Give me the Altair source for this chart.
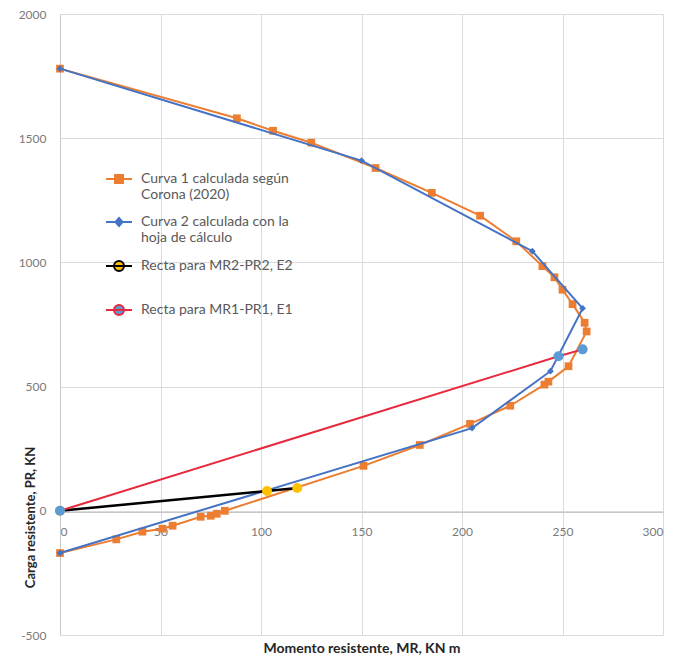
import altair as alt
import pandas as pd

# ---------------- data ----------------
series_names = [
    "Curva 1 calculada según|Corona (2020)",
    "Curva 2 calculada con la|hoja de cálculo",
    "Recta para MR2-PR2, E2| ",
    "Recta para MR1-PR1, E1",
]

c1_mr = [0, 88, 106, 125, 157, 185, 209, 227, 240, 246, 250, 255, 261, 262,
         253, 243, 241, 224, 204, 179, 151, 82, 78, 75, 70, 56, 51, 41, 28, 0]
c1_pr = [1780, 1580, 1530, 1482, 1380, 1280, 1188, 1085, 985, 940, 890, 832, 757, 722,
         582, 520, 508, 423, 350, 265, 181, 0, -12, -20, -24, -60, -72, -84, -115, -170]

c2_mr = [0, 150, 235, 260, 244, 205, 0]
c2_pr = [1780, 1410, 1045, 815, 562, 333, -170]

e2_mr = [0, 103, 118]
e2_pr = [0, 80, 92]

e1_mr = [0, 248, 260]
e1_pr = [0, 622, 650]

x_ticks = [0, 50, 100, 150, 200, 250, 300]
y_ticks = [-500, 0, 500, 1000, 1500, 2000]

line_colors = ["#ED7D31", "#4472C4", "#000000", "#E8283C"]
marker_colors = ["#ED7D31", "#4472C4", "#FFC000", "#5B9BD5"]

# legend symbols: a line segment plus the marker
seg = "M-2.6,0H2.6"
legend_paths = [
    seg + "M-0.8,-0.8H0.8V0.8H-0.8Z",
    seg + "M0,-0.8L0.7,0L0,0.8L-0.7,0Z",
    seg + "M-1,0A1,1,0,1,1,1,0A1,1,0,1,1,-1,0Z",
    seg + "M-1,0A1,1,0,1,1,1,0A1,1,0,1,1,-1,0Z",
]


def frame(mr, pr):
    return pd.DataFrame({"mr": mr, "pr": pr, "i": list(range(len(mr)))})


FONT = "Lato"

X = alt.X(
    "mr:Q",
    scale=alt.Scale(domain=[0, 300], nice=False),
    axis=alt.Axis(
        values=x_ticks, grid=True, ticks=False, domain=True, offset=-123,
        labelPadding=14, labelFontSize=12, labelColor="#7a7a7a", labelFont=FONT,
        title="Momento resistente, MR, KN m", titleFont=FONT, titleFontSize=14,
        titleFontWeight="bold", titleColor="#262626", titlePadding=104,
        gridColor="#dadada", domainColor="#c8c8c8",
    ),
)
Y = alt.Y(
    "pr:Q",
    scale=alt.Scale(domain=[-500, 2000], nice=False),
    axis=alt.Axis(
        values=y_ticks, grid=True, ticks=False, domain=True,
        labelPadding=14, labelFontSize=12, labelColor="#7a7a7a", labelFont=FONT,
        labelExpr="'' + datum.value",
        title="Carga  resistente, PR, KN", titleFont=FONT, titleFontSize=13,
        titleFontWeight="bold", titleColor="#262626",
        titleX=-30, titleY=503, titleBaseline="middle", titleAngle=270,
        gridColor="#dadada", domainColor="#c8c8c8",
    ),
)


def line_layer(df, color, width=2):
    return alt.Chart(df).mark_line(color=color, strokeWidth=width).encode(
        x=X, y=Y, order="i:Q"
    )


def point_layer(df, color, shape, size):
    return alt.Chart(df).mark_point(
        shape=shape, size=size, filled=True, fill=color, opacity=1, strokeWidth=0
    ).encode(x=X, y=Y)


c1 = frame(c1_mr, c1_pr)
c2 = frame(c2_mr, c2_pr)
e2 = frame(e2_mr, e2_pr)
e1 = frame(e1_mr, e1_pr)

leg = alt.Legend(
    title=None, orient="none", legendX=52, legendY=158, padding=0,
    labelExpr="split(datum.label, '|')", labelFont=FONT, labelFontSize=14,
    labelColor="#595959", labelLimit=400, labelOffset=15, symbolSize=100,
    symbolStrokeWidth=2, rowPadding=12, symbolOpacity=1,
)

legend_df = pd.DataFrame({"series": series_names, "mr": [-100] * 4, "pr": [-1000] * 4})
legend_layer = alt.Chart(legend_df).mark_point(clip=True, filled=True).encode(
    x=X, y=Y,
    shape=alt.Shape("series:N", scale=alt.Scale(domain=series_names, range=legend_paths), legend=leg),
    stroke=alt.Stroke("series:N", scale=alt.Scale(domain=series_names, range=line_colors), legend=leg),
    fill=alt.Fill("series:N", scale=alt.Scale(domain=series_names, range=marker_colors), legend=leg),
)

chart = alt.layer(
    line_layer(c1, line_colors[0]),
    point_layer(c1, marker_colors[0], "square", 60),
    line_layer(c2, line_colors[1]),
    point_layer(c2, marker_colors[1], "diamond", 45),
    line_layer(e2, line_colors[2], 2.5),
    point_layer(e2, marker_colors[2], "circle", 100),
    line_layer(e1, line_colors[3]),
    point_layer(e1, marker_colors[3], "circle", 100),
    legend_layer,
).properties(
    width=603, height=621,
    autosize=alt.AutoSizeParams(type="none"),
    padding={"left": 52, "top": 6, "right": 7, "bottom": 25},
).configure_view(stroke=None)

chart.save("out.html", embed_options={"renderer": "svg", "actions": False})
